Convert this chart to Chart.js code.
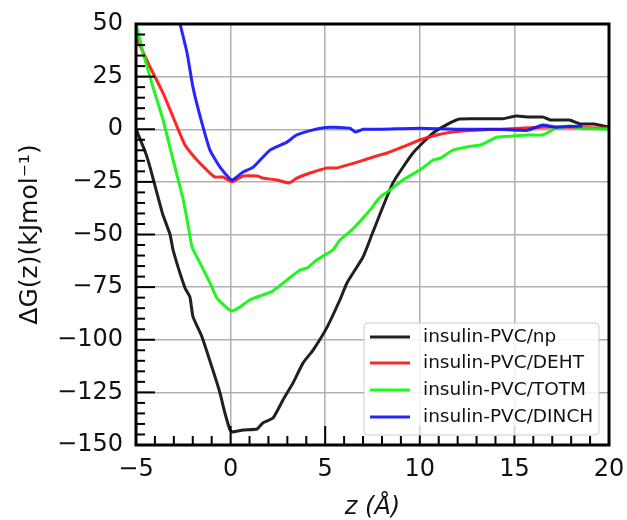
<!DOCTYPE html>
<html>
<head>
<meta charset="utf-8">
<script src="https://cdn.jsdelivr.net/npm/chart.js@4.4.1/dist/chart.umd.min.js"></script>
<style>
  html, body { margin: 0; padding: 0; background: #ffffff; }
  #wrap { width: 627px; height: 520px; }
</style>
</head>
<body>
<div id="wrap"><canvas id="c" width="627" height="520"></canvas></div>
<script>
// ---- data ----
const seriesLabels = ['insulin-PVC/np', 'insulin-PVC/DEHT', 'insulin-PVC/TOTM', 'insulin-PVC/DINCH'];

const xNp = [-5, -4.5, -4.26, -3.6, -3.2, -3.04, -2.41, -2.15, -1.99, -1.51, -0.82, -0.56, -0.3, -0.03, 0.1, 0.66, 1.4, 1.7, 2.24, 2.77, 3.3, 3.83, 4.36, 5.1, 5.78, 6.15, 7.0, 7.5, 8.58, 9.64, 10.7, 11.6, 12.1, 13.2, 14.4, 15.1, 15.8, 16.5, 16.9, 17.9, 18.5, 19.2, 20];
const yNp = [0, -11, -18, -40, -50, -57.4, -75.4, -79.7, -89, -98.7, -117.7, -125.3, -134.8, -142.9, -143.8, -142.9, -142.4, -139.5, -137.2, -128.6, -120.5, -111, -104.9, -94, -81, -73, -60.7, -49.3, -25.5, -11.3, -1.8, 3, 4.9, 5, 5, 6.3, 5.8, 5.8, 4.4, 4.4, 2.5, 2.5, 1];

const xDeht = [-5, -4.26, -3.57, -3.04, -2.41, -1.78, -1.09, -0.82, -0.4, 0.06, 0.66, 1.4, 1.7, 2.45, 3.1, 3.5, 4.2, 5.1, 5.6, 6.7, 7.9, 8.27, 9.1, 10, 10.9, 11.75, 13.2, 15.3, 16.5, 17.9, 20];
const yDeht = [44, 29.6, 17.2, 5.8, -7.5, -14.6, -20.8, -22.7, -22.7, -25, -22.2, -22.2, -23.2, -24.1, -25.5, -23.2, -20.8, -18.4, -18.4, -15.6, -12.2, -11.3, -8.4, -5.1, -2.7, -1.3, -0.4, 0.5, 1, 1, 0.5];

const xTotm = [-5, -4.62, -4.1, -3.57, -3.04, -2.5, -2.2, -2.04, -1.62, -1.09, -0.72, -0.19, 0.06, 0.5, 1.0, 1.7, 2.24, 2.98, 3.67, 4.04, 4.56, 5.25, 5.4, 5.78, 6.4, 7.37, 7.9, 8.42, 9.1, 10, 10.7, 11.1, 11.75, 12.5, 13.2, 14.1, 14.9, 15.7, 16.5, 17.2, 17.9, 18.6, 20];
const yTotm = [50, 36.2, 20, 4.4, -14.6, -33.6, -48, -55.9, -63.5, -73, -80.2, -84.9, -86.3, -84.4, -81.1, -78.7, -76.8, -71.6, -66.9, -65.9, -62.1, -58.3, -57.4, -52.6, -47.9, -38.4, -32.2, -28.9, -24.1, -19.4, -14.6, -13.7, -9.9, -8.4, -7.5, -3.7, -3.2, -2.7, -2.7, 0.5, 1.5, 0.5, 0];

const xDinch = [-2.67, -2.3, -1.99, -1.6, -1.09, -0.56, -0.03, 0.1, 0.66, 1.2, 2.08, 2.98, 3.5, 4.56, 5.25, 6.3, 6.6, 7.0, 8, 10, 12, 14, 15.2, 15.7, 16.5, 17.2, 18.6];
const yDinch = [50, 36.2, 20, 5.8, -9.9, -18, -23.6, -24.1, -20.3, -18, -9.9, -6.1, -2.7, 0.1, 1, 0.5, -1.3, 0, 0, 0.5, 0, 0, -0.5, -0.5, 2, 1, 1.5];

const xTicksMajor = [-5, 0, 5, 10, 15, 20];
const yTicksMajor = [-150, -125, -100, -75, -50, -25, 0, 25, 50];

const colors = ['rgba(20,20,20,0.95)', 'rgba(255,20,20,0.92)', 'rgba(20,245,20,0.95)', 'rgba(20,20,255,0.92)'];

function pts(xs, ys) { return xs.map((x, i) => ({ x: x, y: ys[i] })); }
const seriesX = [xNp, xDeht, xTotm, xDinch];
const seriesY = [yNp, yDeht, yTotm, yDinch];

const datasets = seriesLabels.map((lab, i) => ({
  label: lab,
  data: pts(seriesX[i], seriesY[i]),
  borderColor: colors[i],
  backgroundColor: colors[i],
  borderWidth: 3,
  pointRadius: 0,
  tension: 0.15,
  fill: false,
  order: 3 - i
}));

function fmt(v) { return v < 0 ? '\u2212' + Math.abs(v) : String(v); }

const frameTicks = {
  id: 'frameTicks',
  afterDatasetsDraw(chart) {
    const ctx = chart.ctx;
    const a = chart.chartArea;
    const xs = chart.scales.x, ys = chart.scales.y;
    ctx.save();
    ctx.strokeStyle = '#000';
    ctx.lineWidth = 2;
    ctx.lineCap = 'butt';
    for (let v = xs.min; v <= xs.max + 1e-9; v += 1) {
      const px = xs.getPixelForValue(v);
      const major = Math.abs(v % 5) < 1e-9;
      const len = major ? 19 : 9;
      ctx.beginPath(); ctx.moveTo(px, a.bottom); ctx.lineTo(px, a.bottom - len); ctx.stroke();
    }
    for (let v = ys.min; v <= ys.max + 1e-9; v += 5) {
      const py = ys.getPixelForValue(v);
      const major = Math.abs(v % 25) < 1e-9;
      const len = major ? 19 : 9;
      ctx.beginPath(); ctx.moveTo(a.left, py); ctx.lineTo(a.left + len, py); ctx.stroke();
    }
    ctx.lineWidth = 3;
    ctx.strokeRect(a.left, a.top, a.right - a.left, a.bottom - a.top);
    ctx.restore();
  },
  afterDraw(chart) {
    const ctx = chart.ctx;
    const bx = 364, by = 323, bw = 235, bh = 112, r = 4;
    ctx.save();
    ctx.beginPath();
    ctx.moveTo(bx + r, by);
    ctx.arcTo(bx + bw, by, bx + bw, by + bh, r);
    ctx.arcTo(bx + bw, by + bh, bx, by + bh, r);
    ctx.arcTo(bx, by + bh, bx, by, r);
    ctx.arcTo(bx, by, bx + bw, by, r);
    ctx.closePath();
    ctx.fillStyle = 'rgba(255,255,255,0.85)';
    ctx.fill();
    ctx.strokeStyle = '#cccccc';
    ctx.lineWidth = 1;
    ctx.stroke();
    const rowY = [337, 363, 390, 417];
    ctx.font = '18.5px "DejaVu Sans"';
    ctx.textBaseline = 'middle';
    ctx.textAlign = 'left';
    chart.data.datasets.forEach((ds, i) => {
      ctx.strokeStyle = ds.borderColor;
      ctx.lineWidth = 3;
      ctx.beginPath(); ctx.moveTo(370, rowY[i]); ctx.lineTo(410, rowY[i]); ctx.stroke();
      ctx.fillStyle = '#111';
      ctx.fillText(ds.label, 423, rowY[i]);
    });
    ctx.restore();
  }
};

new Chart(document.getElementById('c'), {
  type: 'line',
  data: { datasets: datasets },
  options: {
    responsive: false,
    devicePixelRatio: 1,
    animation: false,
    layout: { padding: { left: 0, right: 18, top: 24, bottom: 0 } },
    plugins: { legend: { display: false }, tooltip: { enabled: false } },
    scales: {
      x: {
        type: 'linear',
        min: -5, max: 20,
        afterFit(s) { s.height = 75; s.paddingLeft = 0; s.paddingRight = 0; },
        afterBuildTicks(s) { s.ticks = xTicksMajor.map(v => ({ value: v })); },
        grid: { color: '#b0b0b0', lineWidth: 1.5, drawTicks: false },
        border: { display: false },
        ticks: { padding: 10, color: '#111', font: { family: 'DejaVu Sans', size: 24 }, callback: v => fmt(v), maxRotation: 0 },
        title: { display: true, text: 'z (Å)', color: '#111', font: { family: 'DejaVu Sans', size: 24, style: 'italic', lineHeight: 1 }, padding: { top: 1, bottom: 0 } }
      },
      y: {
        type: 'linear',
        min: -150, max: 50,
        afterFit(s) { s.width = 136; s.paddingTop = 0; s.paddingBottom = 0; },
        afterBuildTicks(s) { s.ticks = yTicksMajor.map(v => ({ value: v })); },
        grid: { color: '#b0b0b0', lineWidth: 1.5, drawTicks: false },
        border: { display: false },
        ticks: { padding: 13, color: '#111', font: { family: 'DejaVu Sans', size: 24 }, callback: v => fmt(v) },
        title: { display: true, text: 'ΔG(z)(kJmol⁻¹)', color: '#111', font: { family: 'DejaVu Sans', size: 25 }, padding: { top: 15, bottom: 0 } }
      }
    }
  },
  plugins: [frameTicks]
});
</script>
</body>
</html>
